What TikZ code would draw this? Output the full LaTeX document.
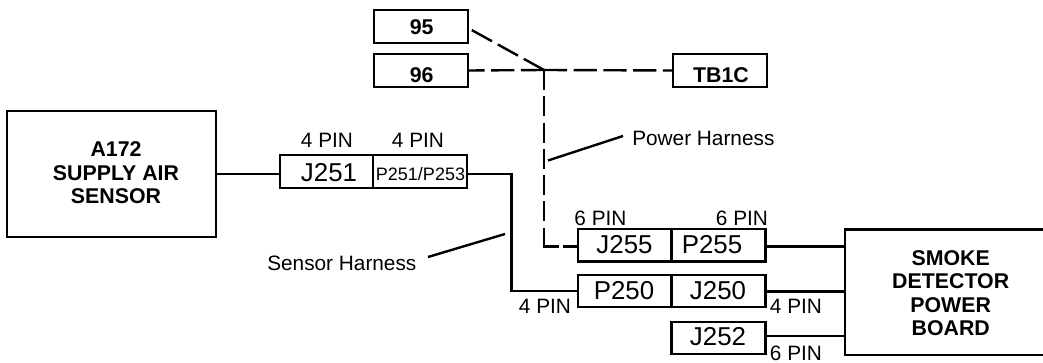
\documentclass[tikz,border=0pt]{standalone}
\usepackage{fontspec}
\setmainfont{Liberation Sans}
\tikzset{
  wire/.style={line width=1.8pt},
  harness/.style={line width=1.8pt,dash pattern=on 17.3pt off 5pt},
  drop/.style={line width=1.8pt,dash pattern=on 15pt off 4.7pt},
  box/.style={draw,line width=1.8pt,inner sep=0pt,minimum height=24.4pt},
  pinlabel/.style={font=\fontsize{15.6}{18}\selectfont,inner sep=0pt},
  conn/.style={font=\fontsize{19.4}{22}\selectfont,inner sep=0pt},
  title/.style={font=\fontsize{16}{17.6}\selectfont\bfseries,align=center,inner sep=0pt}
}
\begin{document}
\begin{tikzpicture}[x=0.75pt,y=-0.75pt]
\useasboundingbox (0,0) rectangle (1043,363);
% outer boxes
\node[box,minimum width=157pt,minimum height=94.5pt] (a172) at (111.5,174) {};
\node[title] (a172txt) at (116,172.7) {A172\\SUPPLY AIR\\SENSOR};
\node[box,minimum width=164pt,minimum height=94pt,anchor=north west] (smoke) at (844,228.3) {};
\node[title] (smoketxt) at (950.7,293) {SMOKE\\DETECTOR\\POWER\\BOARD};
% terminals
\node[box,minimum width=70.5pt] (t95) at (421,26.5) {};
\node[box,minimum width=70.5pt] (t96) at (421,70.5) {};
\node[box,minimum width=70.5pt] (tb1c) at (720,70.5) {};
\node[title] (t95txt) at (421.7,27) {95};
\node[title] (t96txt) at (421.7,75) {96};
\node[title] (tb1ctxt) at (721,75) {TB1C};
% connectors
\node[box,minimum width=70pt] (j251) at (326.5,171.5) {};
\node[box,minimum width=70.5pt] (p251) at (420,171.5) {};
\node[box,minimum width=70pt] (j255) at (624.6,245.4) {};
\node[box,minimum width=70.5pt] (p255) at (718.3,245.4) {};
\node[box,minimum width=70pt] (p250) at (624.6,291) {};
\node[box,minimum width=70.5pt] (j250) at (718.3,291) {};
\node[box,minimum width=70.5pt] (j252) at (718.3,338) {};
\node[conn] (j251txt) at (329,172.7) {J251};
\node[font=\fontsize{13.5}{16}\selectfont,inner sep=0pt] (p251txt) at (420.5,174) {P251/P253};
\node[conn] (j255txt) at (624.5,245) {J255};
\node[conn] (p255txt) at (712,245) {P255};
\node[conn] (p250txt) at (624,290.7) {P250};
\node[conn] (j250txt) at (718,290.7) {J250};
\node[conn] (j252txt) at (718,336.7) {J252};
% pin counts
\node[pinlabel] (pin1) at (327,140) {4 PIN};
\node[pinlabel] (pin2) at (418,140) {4 PIN};
\node[pinlabel] (pin3) at (600.5,218) {6 PIN};
\node[pinlabel] (pin4) at (742,218) {6 PIN};
\node[pinlabel] (pin5) at (545,306.7) {4 PIN};
\node[pinlabel] (pin6) at (796,306.7) {4 PIN};
\node[pinlabel,anchor=north] (pin7) at (796,345.5) {6 PIN};
% harness labels
\node[pinlabel,anchor=west] (powerlbl) at (632,138) {Power Harness};
\node[pinlabel,anchor=west] (sensorlbl) at (267,263) {Sensor Harness};
% solid wires
\coordinate (sbend1) at (511.5,174);
\coordinate (sbend2) at (511.5,291);
\coordinate (pbend) at (544,246.7);
\draw[wire] (a172.east) -- (a172.east -| j251.west);
\draw[wire,line join=miter] (sbend1 -| p251.east) -- (sbend1) -- (sbend2) -- (sbend2 -| p250.west);
\draw[wire] (pbend -| p255.east) -- (pbend -| smoke.west);
\draw[wire] (j250.east) ++(0,0.7) -- ++(78.7,0);
\draw[wire] (j252.east) ++(0,-2) -- ++(78.7,0);
% harness wires
\coordinate (tee) at (544,70);
\coordinate (t95end) at (468,28);
\coordinate (dropend) at (544,221);
\coordinate (elbowtop) at (544,227.7);
\coordinate (elbowend) at (559,246.7);
\coordinate (stub) at (563,246.7);
\draw[harness] (tee) -- (t95end);
\draw[harness] (tee) -- (t96.east);
\draw[harness] (tee) -- (tb1c.west);
\draw[drop] (tee) -- (dropend);
\draw[wire,line join=miter] (elbowtop) -- (pbend) -- (elbowend);
\draw[wire] (stub) -- (stub -| j255.west);
% leaders
\coordinate (pleader) at (548,160.5);
\coordinate (pleaderend) at (623,136);
\coordinate (sleader) at (505,234);
\coordinate (sleaderend) at (428,257);
\draw[wire] (pleader) -- (pleaderend);
\draw[wire] (sleader) -- (sleaderend);
\end{tikzpicture}
\end{document}
